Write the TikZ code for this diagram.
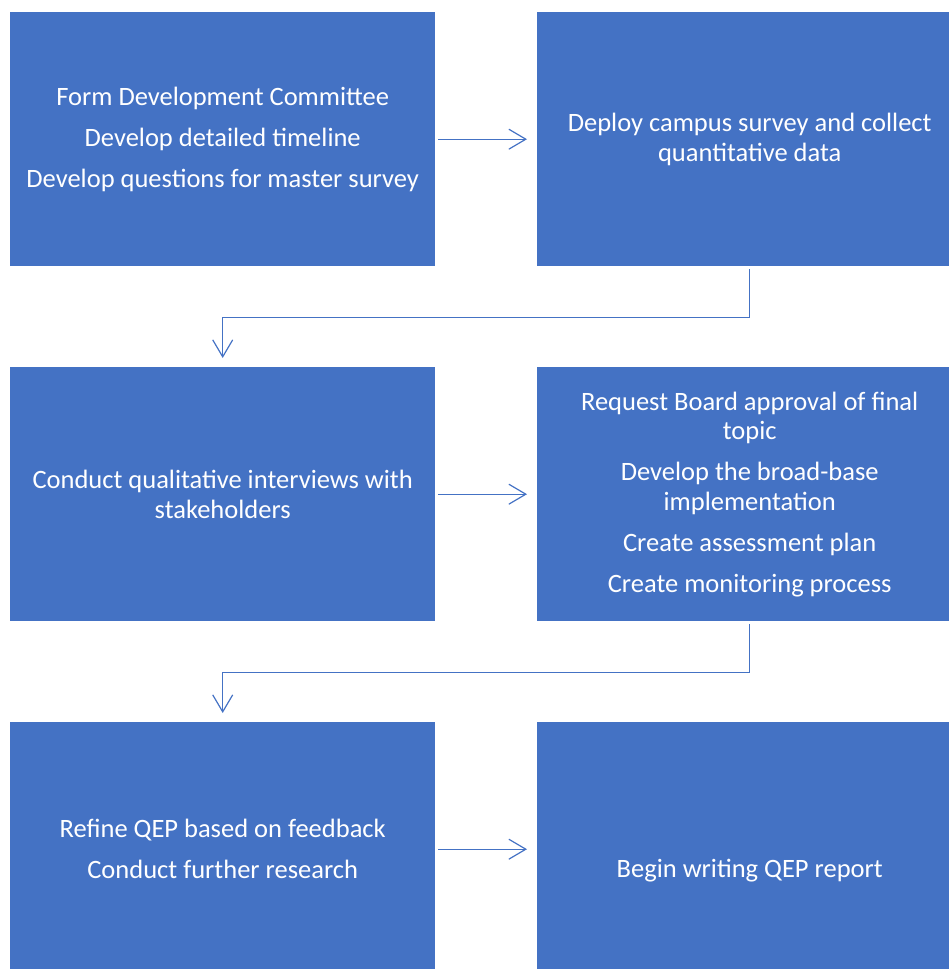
\documentclass[tikz,border=0pt]{standalone}
\usepackage{fontspec}
\setmainfont{Carlito}
\usetikzlibrary{arrows.meta}
\definecolor{boxblue}{HTML}{4472C4}
\tikzset{
  stepbox/.style={fill=boxblue, draw=none, text=white, minimum width=425pt, minimum height=254pt,
    anchor=north west, align=center, inner sep=0pt,
    font=\fontsize{26.5}{29.5}\selectfont},
  conn/.style={draw=boxblue, line width=1.2pt, -{Straight Barb[length=17pt,width=20pt,line width=1.2pt]}}
}
\begin{document}
\begin{tikzpicture}[x=1pt,y=1pt]
\useasboundingbox (0,0) rectangle (949,-969);
\clip (0,0) rectangle (949,-969);
\node[stepbox] (b1) at (10,-12) {Form Development Committee\\[11.5pt]Develop detailed timeline\\[11.5pt]Develop questions for master survey};
\node[stepbox] (b2) at (537,-12) {Deploy campus survey and collect\\quantitative data};
\node[stepbox] (b3) at (10,-367) {Conduct qualitative interviews with\\stakeholders};
\node[stepbox] (b4) at (537,-367) {Request Board approval of final\\topic\\[11.5pt]Develop the broad-base\\implementation\\[11.5pt]Create assessment plan\\[11.5pt]Create monitoring process};
\node[stepbox] (b5) at (10,-722) {Refine QEP based on feedback\\[11.5pt]Conduct further research};
\node[stepbox] (b6) at (537,-722) {\strut\\[11.5pt]Begin writing QEP report};
\draw[conn] ([xshift=3pt]b1.east) -- ([xshift=-10pt]b2.west);
\draw[conn] ([xshift=3pt]b3.east) -- ([xshift=-10pt]b4.west);
\draw[conn] ([xshift=3pt]b5.east) -- ([xshift=-10pt]b6.west);
\draw[conn] ([yshift=-3pt]b2.south) -- ++(0,-48) -| ([yshift=9pt]b3.north);
\draw[conn] ([yshift=-3pt]b4.south) -- ++(0,-48) -| ([yshift=9pt]b5.north);
\end{tikzpicture}
\end{document}
